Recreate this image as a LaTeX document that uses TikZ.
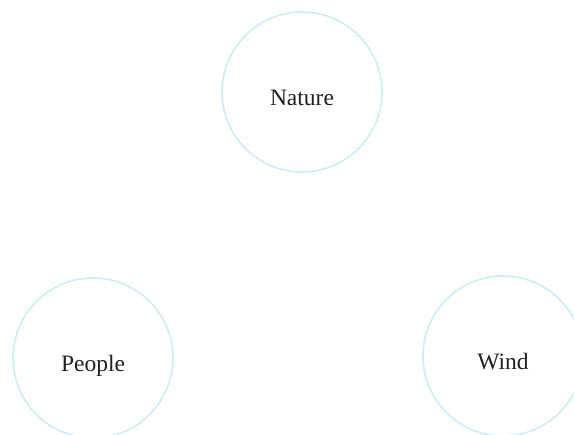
\documentclass[tikz,border=0pt]{standalone}
\usepackage{fontspec}
\setmainfont{Liberation Serif}
\definecolor{ringblue}{RGB}{204,236,250}
\definecolor{labelgray}{RGB}{35,31,32}

\begin{document}
\begin{tikzpicture}[x=1pt,y=1pt,
    Topic/.style = {
        shape = circle,
        draw = ringblue,
        line width = 1.6pt,
        minimum size = 160pt,
        inner sep = 0pt,
        text height = 32pt,
        text depth = 5pt,
        text = labelgray,
        font = \fontsize{23.5}{27}\selectfont}]
          \clip (0,0) rectangle (574,435);
          \node[Topic] (nature) at (302,343) {Nature};
          \node[Topic] (people) at (93,77) {People};
          \node[Topic] (wind)   at (503,79) {Wind};
        \end{tikzpicture}
\end{document}
